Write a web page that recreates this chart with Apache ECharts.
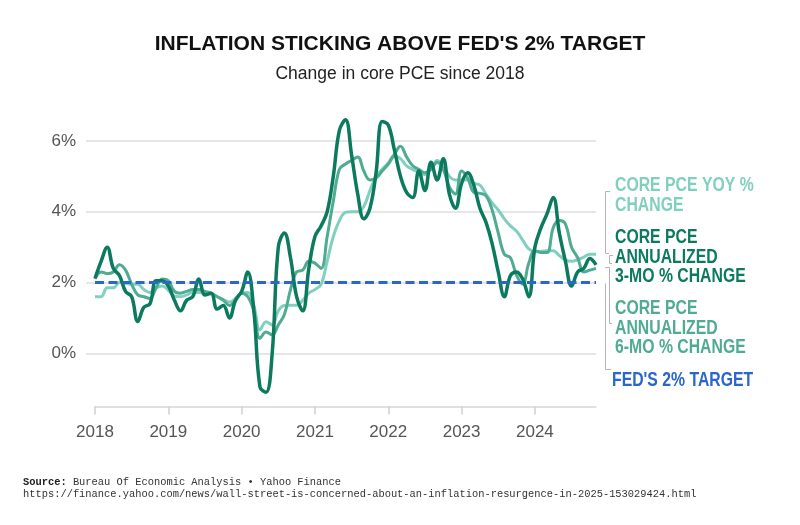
<!DOCTYPE html>
<html><head><meta charset="utf-8">
<script src="https://cdn.jsdelivr.net/npm/echarts@6/dist/echarts.min.js"></script>
<style>html,body{margin:0;padding:0;background:#fff}#c{width:800px;height:525px}</style>
</head><body><div id="c"></div>
<script>
const months = [
'2018-01','2018-02','2018-03','2018-04','2018-05','2018-06','2018-07','2018-08','2018-09','2018-10','2018-11','2018-12',
'2019-01','2019-02','2019-03','2019-04','2019-05','2019-06','2019-07','2019-08','2019-09','2019-10','2019-11','2019-12',
'2020-01','2020-02','2020-03','2020-04','2020-05','2020-06','2020-07','2020-08','2020-09','2020-10','2020-11','2020-12',
'2021-01','2021-02','2021-03','2021-04','2021-05','2021-06','2021-07','2021-08','2021-09','2021-10','2021-11','2021-12',
'2022-01','2022-02','2022-03','2022-04','2022-05','2022-06','2022-07','2022-08','2022-09','2022-10','2022-11','2022-12',
'2023-01','2023-02','2023-03','2023-04','2023-05','2023-06','2023-07','2023-08','2023-09','2023-10','2023-11','2023-12',
'2024-01','2024-02','2024-03','2024-04','2024-05','2024-06','2024-07','2024-08','2024-09','2024-10','2024-11'];
const yearLabels = ['2018','2019','2020','2021','2022','2023','2024'];
const yTickLabels = ['0%','2%','4%','6%'];

// Core PCE YoY % change
const coreYoY = [
1.6,1.6,1.85,1.85,2.0,1.98,1.95,1.95,1.8,1.72,1.85,1.9,
1.78,1.62,1.6,1.65,1.72,1.72,1.7,1.68,1.6,1.52,1.45,1.55,
1.7,1.72,1.35,0.66,0.89,0.8,1.2,1.35,1.36,1.36,1.5,1.7,
1.8,1.95,2.6,3.3,3.75,3.98,4.0,4.0,4.15,4.6,5.0,5.2,
5.38,5.58,5.5,5.3,5.2,5.12,5.05,5.2,5.45,5.3,5.0,4.9,
4.9,4.9,4.8,4.75,4.5,4.25,4.05,3.8,3.6,3.45,3.2,2.95,
2.88,2.88,2.9,2.9,2.76,2.64,2.6,2.64,2.72,2.8,2.8];
// Core PCE annualized 3-month % change
const core3mo = [
2.12,2.6,3.0,2.4,2.2,1.75,1.6,0.9,1.3,1.4,2.05,2.05,
1.9,1.5,1.2,1.5,1.6,2.1,1.65,1.7,1.25,1.35,1.0,1.5,
1.75,2.3,1.2,-0.95,-1.1,0.0,3.0,3.4,2.7,1.6,1.2,2.4,
3.3,3.6,4.0,5.0,6.3,6.6,5.6,4.5,3.8,4.1,5.1,6.55,
6.45,5.75,5.0,4.55,4.4,5.15,4.6,5.4,4.9,5.5,4.5,4.1,
4.8,5.1,4.75,4.1,3.7,3.1,2.3,1.6,2.2,2.3,2.1,1.6,
3.0,3.55,3.95,4.4,3.4,2.6,1.9,2.3,2.4,2.68,2.5];
// Core PCE annualized 6-month % change
const core6mo = [
2.1,2.3,2.25,2.3,2.5,2.35,1.95,1.65,1.6,1.55,1.85,2.1,
2.05,1.75,1.7,1.75,1.8,1.8,1.75,1.7,1.6,1.5,1.35,1.5,
1.7,1.6,1.2,0.42,0.6,0.52,0.8,1.1,1.8,2.3,2.35,2.6,
2.55,2.4,3.3,4.3,5.2,5.35,5.45,5.55,5.15,4.9,4.95,5.15,
5.35,5.62,5.85,5.55,5.3,5.2,5.1,5.2,5.4,5.2,4.7,4.5,
5.15,4.95,4.55,4.52,4.45,4.05,3.4,2.8,2.7,2.2,1.95,2.55,
2.9,2.85,2.85,3.55,3.75,3.65,3.0,2.7,2.3,2.35,2.4];
const fedTarget = 2;

const C_YOY = '#80cfbf', C_3MO = '#0b7a5e', C_6MO = '#4fab91', C_FED = '#2a66cc';
const sans = '"Liberation Sans",Arial,Helvetica,sans-serif';
const isYearStart = (i) => months[i].slice(5) === '01';

const chart = echarts.init(document.getElementById('c'), null, {renderer: 'canvas'});

function legendText(x, y, text, color) {
  return {type: 'text', x: x, y: y, scaleX: 0.81, silent: true,
    style: {text: text, fill: color, font: 'bold 19.5px ' + sans, textVerticalAlign: 'middle'}};
}
function bracket(points) {
  return {type: 'polyline', silent: true, shape: {points: points},
    style: {stroke: '#b5b5b5', lineWidth: 1, fill: null}};
}

const option = {
  animation: false,
  backgroundColor: '#ffffff',
  title: [
    {text: "INFLATION STICKING ABOVE FED'S 2% TARGET", left: 'center', top: 29,
     textStyle: {fontFamily: sans, fontWeight: 'bold', fontSize: 21, color: '#111'}},
    {text: 'Change in core PCE since 2018', left: 'center', top: 60,
     textStyle: {fontFamily: sans, fontWeight: 'normal', fontSize: 17.5, color: '#222'}}
  ],
  grid: [
    {left: 86, right: 204, top: 141, height: 212.3},
    {left: 95, right: 204, top: 105.6, height: 300.8}
  ],
  xAxis: [
    {gridIndex: 0, type: 'category', data: months, boundaryGap: false, show: false},
    {gridIndex: 1, type: 'category', data: months, boundaryGap: false,
     axisLine: {onZero: false, lineStyle: {color: '#d6d6d6', width: 1.5}},
     axisTick: {interval: isYearStart, length: 8, lineStyle: {color: '#d0d0d0', width: 1.5}},
     axisLabel: {interval: isYearStart, formatter: (v) => yearLabels[yearLabels.indexOf(v.slice(0, 4))],
       color: '#555', fontSize: 17, fontFamily: sans, margin: 17},
     splitLine: {show: false}}
  ],
  yAxis: [
    {gridIndex: 0, type: 'value', min: 0, max: 6, interval: 2,
     axisLabel: {formatter: (v) => yTickLabels[v / 2], color: '#555', fontSize: 17, fontFamily: sans, margin: 10},
     axisLine: {show: false}, axisTick: {show: false},
     splitLine: {lineStyle: {color: '#dedede', width: 1.5}}},
    {gridIndex: 1, type: 'value', min: -1.5, max: 7, show: false, splitLine: {show: false}}
  ],
  series: [
    {name: 'CORE PCE YOY % CHANGE', type: 'line', xAxisIndex: 1, yAxisIndex: 1, data: coreYoY,
     smooth: 0.4, showSymbol: false, lineStyle: {color: C_YOY, width: 3}, itemStyle: {color: C_YOY}},
    {name: 'CORE PCE ANNUALIZED 6-MO % CHANGE', type: 'line', xAxisIndex: 1, yAxisIndex: 1, data: core6mo,
     smooth: 0.4, showSymbol: false, lineStyle: {color: C_6MO, width: 3}, itemStyle: {color: C_6MO}},
    {name: 'CORE PCE ANNUALIZED 3-MO % CHANGE', type: 'line', xAxisIndex: 1, yAxisIndex: 1, data: core3mo,
     smooth: 0.4, showSymbol: false, lineStyle: {color: C_3MO, width: 3.5}, itemStyle: {color: C_3MO}},
    {name: "FED'S 2% TARGET", type: 'line', xAxisIndex: 1, yAxisIndex: 1, data: months.map(() => fedTarget),
     showSymbol: false, lineStyle: {color: C_FED, width: 3, type: [9, 4.5]}, itemStyle: {color: C_FED}}
  ],
  graphic: [
    legendText(615, 185.5, 'CORE PCE YOY %', C_YOY),
    legendText(615, 205.5, 'CHANGE', C_YOY),
    legendText(615, 237.5, 'CORE PCE', C_3MO),
    legendText(615, 257.5, 'ANNUALIZED', C_3MO),
    legendText(615, 276.5, '3-MO % CHANGE', C_3MO),
    legendText(615, 308.5, 'CORE PCE', C_6MO),
    legendText(615, 328.5, 'ANNUALIZED', C_6MO),
    legendText(615, 347.5, '6-MO % CHANGE', C_6MO),
    legendText(612, 380.5, "FED'S 2% TARGET", C_FED),
    bracket([[610, 191.5], [605.5, 191.5], [605.5, 253.5], [609, 253.5]]),
    bracket([[613, 255.5], [609.5, 255.5], [609.5, 263.5], [612, 263.5]]),
    bracket([[605, 267.5], [609.5, 267.5], [609.5, 323.5], [612, 323.5]]),
    bracket([[605.5, 283.5], [605.5, 369.5], [611, 369.5]]),
    {type: 'text', left: 23, top: 477, silent: true,
     style: {text: '{b|Source:} Bureau Of Economic Analysis \u2022 Yahoo Finance',
       font: '10.4px "Liberation Mono",monospace', fill: '#333',
       rich: {b: {fontWeight: 'bold', fontFamily: '"Liberation Mono",monospace', fontSize: 10.4, fill: '#222'}}}},
    {type: 'text', left: 23, top: 489, silent: true,
     style: {text: 'https://finance.yahoo.com/news/wall-street-is-concerned-about-an-inflation-resurgence-in-2025-153029424.html',
       font: '10.4px "Liberation Mono",monospace', fill: '#333'}}
  ]
};
chart.setOption(option);
</script>
</body></html>
